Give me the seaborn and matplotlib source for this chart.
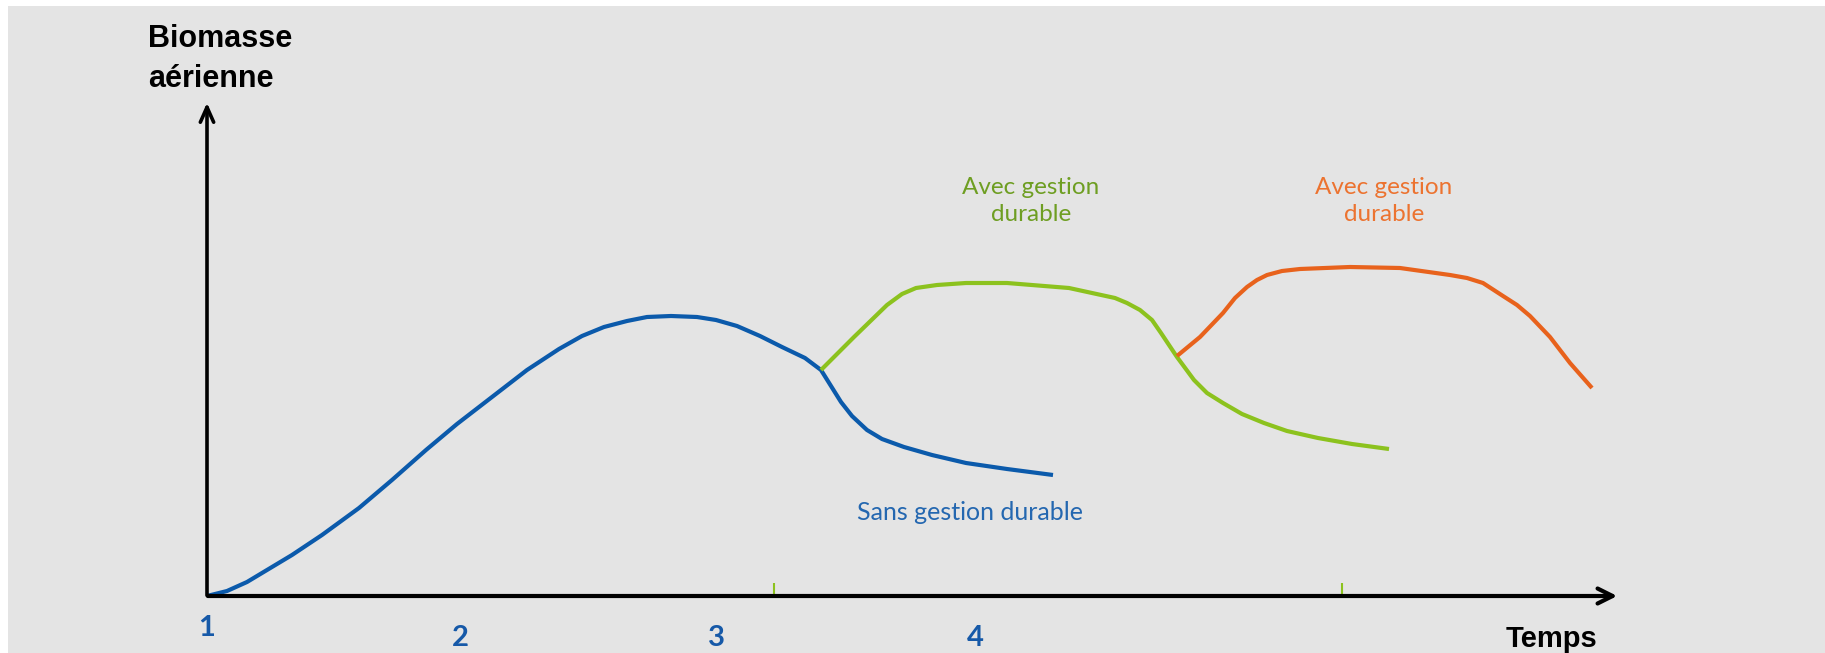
import pandas as pd
import matplotlib.pyplot as plt
import seaborn as sns

# Curves (time, biomass; arbitrary units, origin at the axis corner)
sans_x = [0.00, 0.20, 0.40, 0.60, 0.85, 1.15, 1.52, 1.85, 2.19, 2.50, 2.85, 3.20, 3.52, 3.75, 3.97, 4.20,
          4.40, 4.64, 4.90, 5.09, 5.30, 5.53, 5.75, 5.98, 6.14, 6.24, 6.34, 6.45, 6.60, 6.75, 6.97, 7.25,
          7.59, 8.00, 8.46]
sans_y = [0.00, 0.05, 0.14, 0.26, 0.41, 0.61, 0.88, 1.16, 1.46, 1.72, 1.99, 2.26, 2.47, 2.60, 2.69, 2.75,
          2.79, 2.80, 2.79, 2.76, 2.70, 2.60, 2.49, 2.38, 2.26, 2.10, 1.94, 1.80, 1.66, 1.57, 1.49, 1.41,
          1.33, 1.27, 1.21]

avec1_x = [6.14, 6.47, 6.80, 6.95, 7.09, 7.30, 7.59, 8.00, 8.62, 9.08, 9.20, 9.33, 9.45, 9.54, 9.62, 9.70,
           9.87, 10.00, 10.16, 10.35, 10.57, 10.80, 11.11, 11.45, 11.82]
avec1_y = [2.26, 2.59, 2.91, 3.02, 3.08, 3.11, 3.13, 3.13, 3.08, 2.98, 2.93, 2.86, 2.76, 2.63, 2.51, 2.39,
           2.16, 2.03, 1.93, 1.82, 1.73, 1.65, 1.58, 1.52, 1.47]

avec2_x = [9.70, 9.93, 10.16, 10.28, 10.40, 10.50, 10.60, 10.75, 10.93, 11.43, 11.93, 12.43, 12.60, 12.76,
           12.96, 13.10, 13.23, 13.43, 13.63, 13.85]
avec2_y = [2.40, 2.59, 2.83, 2.98, 3.09, 3.16, 3.21, 3.25, 3.27, 3.29, 3.28, 3.21, 3.18, 3.13,
           3.00, 2.91, 2.80, 2.59, 2.33, 2.08]

cycle_ticks = [5.67, 11.35]
phase_labels = ['1', '2', '3', '4']
phase_x = [0.00, 2.53, 5.09, 7.68]

colors = {'sans': '#0b5aab', 'avec1': '#8cc21e', 'avec2': '#e8621c'}

df = pd.concat([
    pd.DataFrame({'temps': sans_x, 'biomasse': sans_y, 'serie': 'sans'}),
    pd.DataFrame({'temps': avec1_x, 'biomasse': avec1_y, 'serie': 'avec1'}),
    pd.DataFrame({'temps': avec2_x, 'biomasse': avec2_y, 'serie': 'avec2'}),
])

sns.set_theme(style='white')
plt.rcParams['font.family'] = ['Lato', 'DejaVu Sans']

fig = plt.figure(figsize=(18.25, 6.53), dpi=100, facecolor='white')
ax = fig.add_axes([8 / 1825, 0, 1817 / 1825, 647 / 653])
ax.set_facecolor('#e4e4e4')

sns.lineplot(data=df, x='temps', y='biomasse', hue='serie', palette=colors,
             estimator=None, sort=False, linewidth=3, legend=False, ax=ax,
             solid_joinstyle='round', solid_capstyle='butt')

# axes drawn as arrows
x_end, y_end = 14.13, 4.96
ax.annotate('', xy=(x_end, 0), xytext=(-0.02, 0),
            arrowprops=dict(arrowstyle='->,head_length=0.9,head_width=0.45', color='black', lw=3))
ax.annotate('', xy=(0, y_end), xytext=(0, -0.02),
            arrowprops=dict(arrowstyle='->,head_length=0.9,head_width=0.4', color='black', lw=2.6))

ax.vlines(cycle_ticks, 0, 0.13, color='#8cc21e', lw=1.5)

for i, (lab, xp) in enumerate(zip(phase_labels, phase_x)):
    ax.text(xp, -0.32 if i == 0 else -0.42, lab, ha='center', va='center',
            fontsize=21, fontweight='bold', color='#1659a8')

ax.text(-0.59, 5.72, 'Biomasse\naérienne', ha='left', va='top', fontsize=22, color='black',
        fontweight='bold', family=['Liberation Sans', 'DejaVu Sans'], linespacing=1.45)
ax.text(13.44, -0.51, 'Temps', ha='center', va='baseline', fontsize=21, color='black',
        fontweight='bold', family=['Liberation Sans', 'DejaVu Sans'])

ax.text(8.24, 3.95, 'Avec gestion\ndurable', ha='center', va='center',
        fontsize=17.5, color='#6e9e22', linespacing=1.3)
ax.text(11.77, 3.95, 'Avec gestion\ndurable', ha='center', va='center',
        fontsize=17.5, color='#ec7330', linespacing=1.3)
ax.text(7.63, 0.83, 'Sans gestion durable', ha='center', va='center',
        fontsize=18, color='#2467b0')

ax.set_xlim(-1.99, 16.18)
ax.set_ylim(-0.57, 5.90)
ax.set_xticks([])
ax.set_yticks([])
ax.set_xlabel('')
ax.set_ylabel('')
for s in ax.spines.values():
    s.set_visible(False)

fig.savefig('out.png', dpi=100)
